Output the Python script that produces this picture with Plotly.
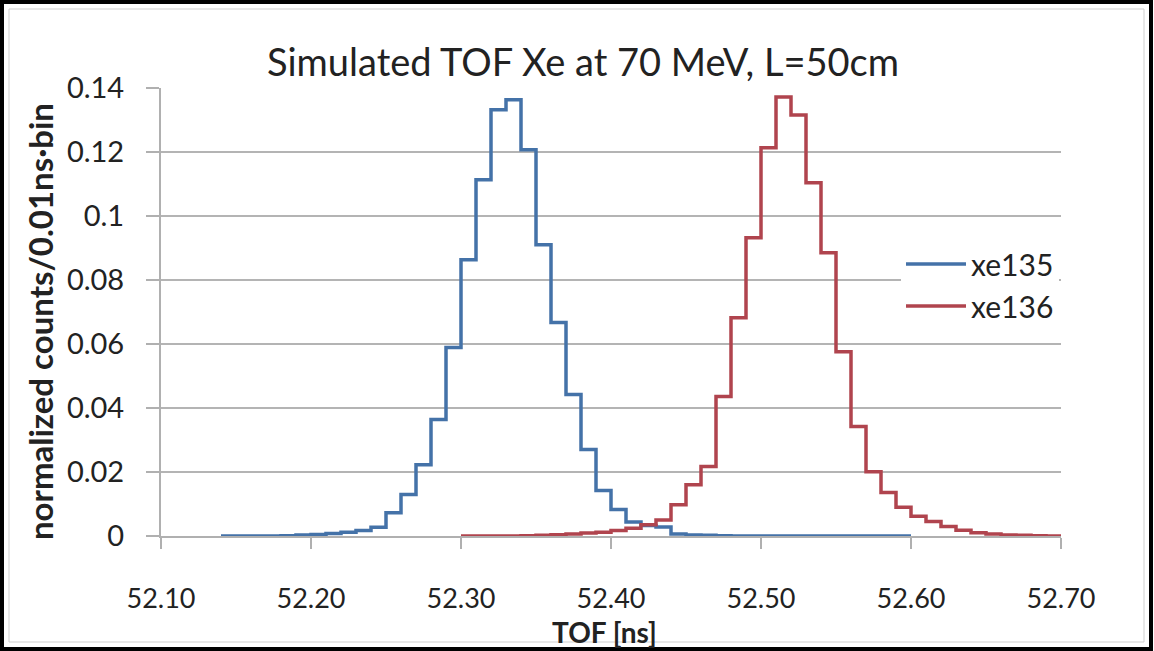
import plotly.graph_objects as go

# ---------------- data ----------------
bin_width = 0.01  # ns

xe135_start = 52.14
xe135 = [0, 0, 0, 0, 0.0001, 0.0003, 0.0005, 0.0008, 0.0012, 0.0017,
         0.0027, 0.0073, 0.0130, 0.0223, 0.0364, 0.0589, 0.0863, 0.1113, 0.1332, 0.1363,
         0.1207, 0.0910, 0.0667, 0.0442, 0.0270, 0.0142, 0.0083, 0.0044, 0.0033, 0.0028,
         0.0006, 0.0003, 0.0002, 0.0001, 0, 0, 0, 0, 0, 0,
         0, 0, 0, 0, 0, 0]

xe136_start = 52.30
xe136 = [0, 0, 0, 0, 0.0001, 0.0002, 0.0004, 0.0006, 0.0009, 0.0012,
         0.0017, 0.0024, 0.0035, 0.0050, 0.0098, 0.0160, 0.0217, 0.0436, 0.0682, 0.0932,
         0.1213, 0.1372, 0.1316, 0.1104, 0.0885, 0.0576, 0.0342, 0.0201, 0.0136, 0.0090,
         0.0062, 0.0045, 0.0030, 0.0018, 0.0010, 0.0006, 0.0003, 0.0002, 0.0001, 0]

x_tick_vals = [52.10, 52.20, 52.30, 52.40, 52.50, 52.60, 52.70]
x_tick_text = ["52.10", "52.20", "52.30", "52.40", "52.50", "52.60", "52.70"]
y_tick_vals = [0, 0.02, 0.04, 0.06, 0.08, 0.10, 0.12, 0.14]
y_tick_text = ["0", "0.02", "0.04", "0.06", "0.08", "0.1", "0.12", "0.14"]

series_names = ["xe135", "xe136"]
series_colors = ["#4472a8", "#b0444e"]


def step_xy(start, values):
    edges = [round(start + i * bin_width, 2) for i in range(len(values) + 1)]
    return edges, list(values) + [values[-1]]


# ---------------- figure ----------------
W, H = 1154, 651
ML, MR, MT, MB = 161, 93, 88, 115
PW, PH = W - ML - MR, H - MT - MB

FONT = "Lato"
TXT = "#222222"

fig = go.Figure()
for i, (start, vals) in enumerate([(xe135_start, xe135), (xe136_start, xe136)]):
    xs, ys = step_xy(start, vals)
    fig.add_trace(go.Scatter(
        x=xs, y=ys, mode="lines", line_shape="hv",
        name=series_names[i],
        line=dict(color=series_colors[i], width=3.5),
    ))


def px_x(px):
    return (px - ML) / PW


def px_y(py):
    return (H - MB - py) / PH


fig.update_layout(
    width=W, height=H,
    margin=dict(l=ML, r=MR, t=MT, b=MB),
    paper_bgcolor="white", plot_bgcolor="white",
    font=dict(family=FONT, color=TXT),
    title=dict(text="Simulated TOF Xe at 70 MeV, L=50cm",
               x=px_x(583), xref="paper", xanchor="center",
               y=1 - 63 / H, yref="container", yanchor="middle",
               font=dict(family=FONT, size=38, color=TXT)),
    showlegend=True,
    legend=dict(x=px_x(901), y=px_y(238), xanchor="left", yanchor="top",
                bgcolor="white", borderwidth=0,
                itemwidth=60, entrywidth=100,
                font=dict(family=FONT, size=30, color=TXT)),
    xaxis=dict(range=[52.10, 52.70], tickvals=x_tick_vals, ticktext=x_tick_text,
               showgrid=False, zeroline=False,
               showline=True, linecolor="#b0b0b0", linewidth=2,
               ticks="outside", ticklen=11, tickwidth=2, tickcolor="#b0b0b0",
               ticklabelstandoff=27,
               tickfont=dict(family=FONT, size=27, color=TXT)),
    yaxis=dict(range=[0, 0.14], tickvals=y_tick_vals, ticktext=y_tick_text,
               showgrid=True, gridcolor="#b4b4b4", gridwidth=2,
               zeroline=False,
               showline=True, linecolor="#b0b0b0", linewidth=2,
               ticks="outside", ticklen=13, tickwidth=2, tickcolor="#b0b0b0",
               ticklabelstandoff=16,
               tickfont=dict(family=FONT, size=29, color=TXT)),
)

# axis titles
fig.add_annotation(text="<b>normalized counts/0.01ns·bin</b>", xref="paper", yref="paper",
                   x=px_x(40), y=px_y(322), textangle=-90, showarrow=False,
                   xanchor="center", yanchor="middle",
                   font=dict(family=FONT, size=33, color=TXT))
fig.add_annotation(text="<b>TOF [ns]</b>", xref="paper", yref="paper",
                   x=px_x(604), y=px_y(632), showarrow=False,
                   xanchor="center", yanchor="middle",
                   font=dict(family=FONT, size=28, color=TXT))

# chart frame
fig.add_shape(type="rect", xref="paper", yref="paper",
              x0=px_x(2), x1=px_x(1151), y0=px_y(649), y1=px_y(2),
              line=dict(color="black", width=4), layer="above")
fig.add_shape(type="rect", xref="paper", yref="paper",
              x0=px_x(9), x1=px_x(1144), y0=px_y(642), y1=px_y(9),
              line=dict(color="#cfcfcf", width=1), layer="below")

fig.write_html("out.html")
